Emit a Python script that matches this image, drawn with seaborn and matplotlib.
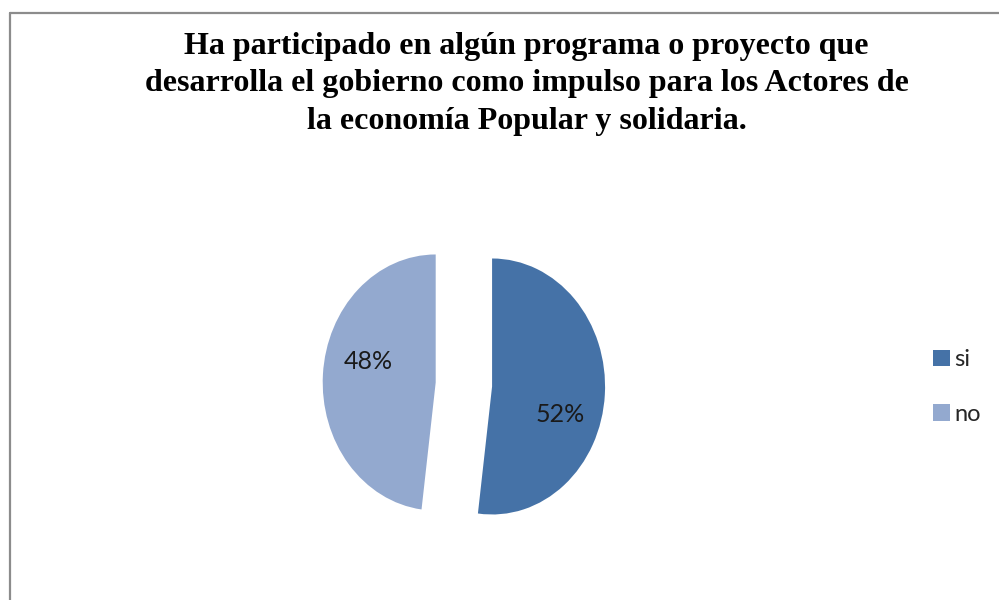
import numpy as np
import matplotlib
matplotlib.use("Agg")
import matplotlib.pyplot as plt
from matplotlib.lines import Line2D
import seaborn as sns

# data
labels = ["si", "no"]
shares = [52, 48]
colors = ["#4572A7", "#93A9CF"]
title = ("Ha participado en algún programa o proyecto que\n"
         "desarrolla el gobierno como impulso para los Actores de\n"
         "la economía Popular y solidaria.")

sns.set_theme(style="white")
plt.rcParams['font.family'] = ['Lato', 'DejaVu Sans']

fig = plt.figure(figsize=(9.99, 6.0), dpi=100)

# pie axes, slightly taller than wide like the original
ax = fig.add_axes([0.2947, 0.0392, 0.3393, 0.64])
wedges, texts, autotexts = ax.pie(
    shares,
    colors=colors,
    startangle=90,
    counterclock=False,
    explode=[0.25, 0.25],
    autopct='%1.0f%%',
    pctdistance=0.6,
    textprops={'fontsize': 18, 'color': '#1a1a1a'},
    wedgeprops={'linewidth': 0},
)
ax.set_aspect('auto')
ax.set_xlim(-1.5, 1.5)
ax.set_ylim(-1.5, 1.5)
ax.axis('off')

# percentage labels sit a bit clockwise of each wedge's bisector
for w, t in zip(wedges, autotexts):
    ang = np.deg2rad((w.theta1 + w.theta2) / 2 - 14)
    cx, cy = w.center
    t.set_position((cx + 0.63 * np.cos(ang), cy + 0.63 * np.sin(ang) - 0.03))

fig.legend(
    wedges, labels,
    loc='center left',
    bbox_to_anchor=(0.934, 0.355),
    bbox_transform=fig.transFigure,
    frameon=False,
    fontsize=17,
    handlelength=0.7,
    handleheight=0.7,
    handletextpad=0.2,
    labelspacing=1.4,
    borderpad=0,
    borderaxespad=0,
)

fig.text(0.527, 0.947, title, ha='center', va='top',
         family='Liberation Serif', fontweight='bold', fontsize=23,
         linespacing=1.38, color='black')

# chart frame (only the top and left edges are visible)
x0 = 9.5 / 999
y0 = 1 - 12.5 / 600
fig.add_artist(Line2D([x0, x0], [0, y0], transform=fig.transFigure,
                      color='#8c8c8c', lw=1.6))
fig.add_artist(Line2D([x0, 1], [y0, y0], transform=fig.transFigure,
                      color='#8c8c8c', lw=1.6))

fig.savefig('out.png', dpi=100)
